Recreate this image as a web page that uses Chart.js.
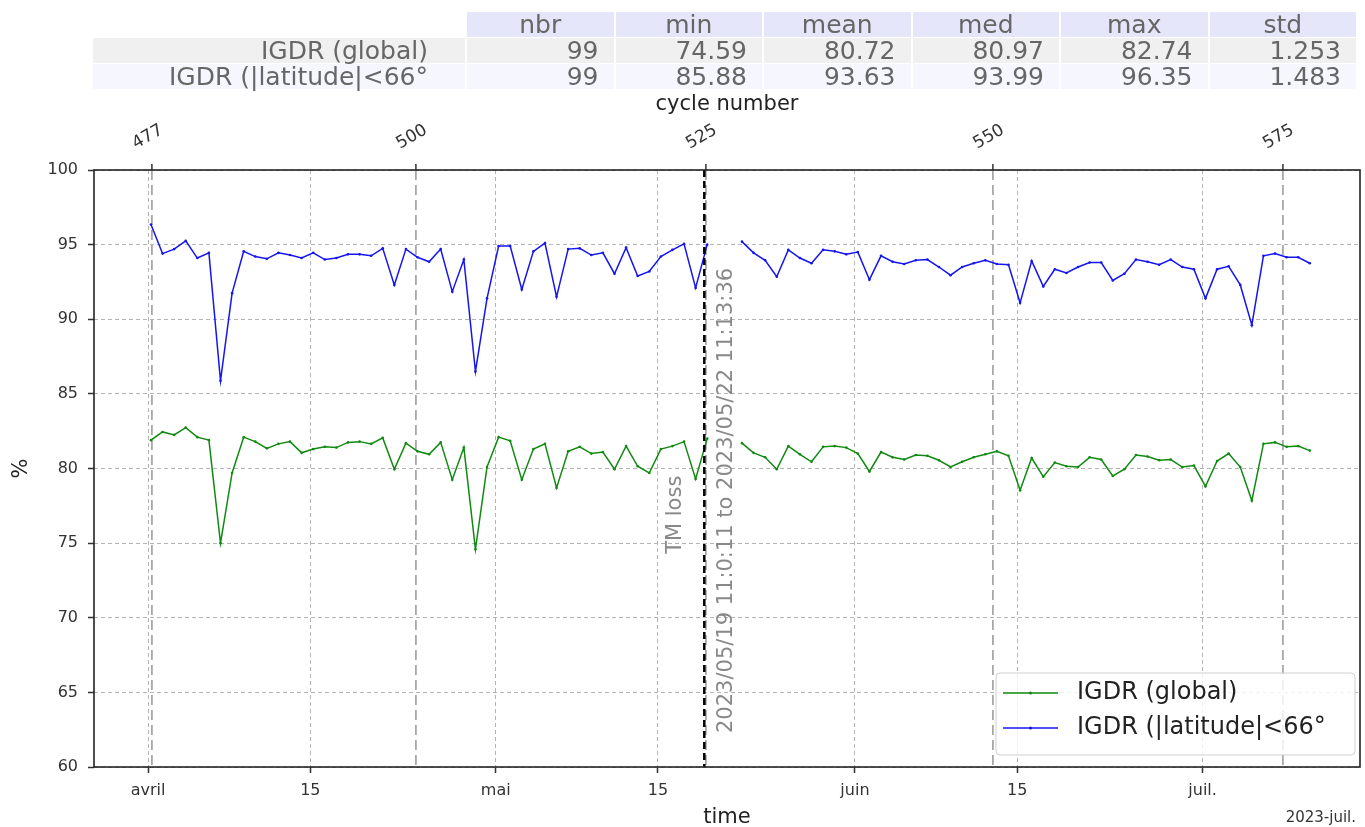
<!DOCTYPE html>
<html>
<head>
<meta charset="utf-8">
<script src="https://cdn.jsdelivr.net/npm/chart.js@4.4.1/dist/chart.umd.min.js"></script>
<style>
body{margin:0;background:#fff;}
#wrap{position:relative;width:1365px;height:827px;}
#stats div{position:absolute;box-sizing:border-box;height:25px;line-height:25px;font-family:'DejaVu Sans';font-size:25px;color:#666;white-space:nowrap;}
</style>
</head>
<body>
<div id="wrap">
<canvas id="c" width="1365" height="827"></canvas>
<div id="stats"></div>
</div>
<script>
// IGDR valid data % - daily samples, 2023
const refYear = 2023;
const sampleTime = '06:00';
const sampleDates = [
 '04-01','04-02','04-03','04-04','04-05','04-06','04-07','04-08','04-09','04-10',
 '04-11','04-12','04-13','04-14','04-15','04-16','04-17','04-18','04-19','04-20',
 '04-21','04-22','04-23','04-24','04-25','04-26','04-27','04-28','04-29','04-30',
 '05-01','05-02','05-03','05-04','05-05','05-06','05-07','05-08','05-09','05-10',
 '05-11','05-12','05-13','05-14','05-15','05-16','05-17','05-18','05-19',
 '05-22','05-23','05-24','05-25','05-26','05-27','05-28','05-29','05-30','05-31',
 '06-01','06-02','06-03','06-04','06-05','06-06','06-07','06-08','06-09','06-10',
 '06-11','06-12','06-13','06-14','06-15','06-16','06-17','06-18','06-19','06-20',
 '06-21','06-22','06-23','06-24','06-25','06-26','06-27','06-28','06-29','06-30',
 '07-01','07-02','07-03','07-04','07-05','07-06','07-07','07-08','07-09','07-10'
];
const globalValues = [
 81.9,82.45,82.25,82.74,82.1,81.9,75.0,79.7,82.1,81.8,
 81.35,81.65,81.8,81.05,81.3,81.45,81.4,81.75,81.8,81.65,
 82.05,79.95,81.7,81.15,80.95,81.75,79.25,81.4,74.59,80.1,
 82.1,81.85,79.25,81.3,81.65,78.7,81.15,81.45,81.0,81.1,
 79.95,81.5,80.15,79.7,81.3,81.5,81.8,79.3,82.0,
 81.7,81.05,80.75,79.95,81.5,80.95,80.45,81.45,81.5,
 81.4,81.0,79.8,81.1,80.75,80.6,80.9,80.85,80.55,80.1,
 80.45,80.75,80.95,81.15,80.85,78.55,80.7,79.45,80.4,80.15,
 80.1,80.75,80.6,79.5,79.95,80.9,80.8,80.55,80.6,80.1,
 80.2,78.8,80.5,81.0,80.1,77.85,81.65,81.75,81.45,81.5,
 81.2
];
const latValues = [
 96.35,94.4,94.7,95.25,94.1,94.45,85.88,91.75,94.55,94.2,
 94.05,94.45,94.3,94.1,94.45,94.0,94.1,94.35,94.35,94.25,
 94.75,92.3,94.7,94.15,93.85,94.7,91.85,94.0,86.5,91.4,
 94.9,94.9,92.0,94.55,95.1,91.5,94.7,94.75,94.3,94.45,
 93.05,94.8,92.9,93.2,94.2,94.65,95.05,92.1,95.0,
 95.2,94.45,93.95,92.85,94.65,94.1,93.75,94.65,94.55,
 94.35,94.5,92.65,94.25,93.85,93.7,93.95,94.0,93.5,92.95,
 93.5,93.75,93.95,93.7,93.65,91.1,93.9,92.2,93.35,93.1,
 93.5,93.8,93.8,92.6,93.05,94.0,93.85,93.65,94.0,93.5,
 93.35,91.4,93.35,93.55,92.3,89.6,94.25,94.4,94.15,94.15,
 93.75
];
const seriesLabels = ['IGDR (global)', 'IGDR (|latitude|<66°'];
const seriesColors = ['#108a10', '#1515f0'];

const axisStart = '03-27T08:00';
const axisEnd = '07-14T14:00';
const dateTickDates = ['04-01','04-15','05-01','05-15','06-01','06-15','07-01'];
const dateTickLabels = ['avril','15','mai','15','juin','15','juil.'];
const dateOffsetLabel = '2023-juil.';
const cycleTickDates = ['04-01T08:00','04-24T03:00','05-19T03:00','06-12T22:00','07-07T22:00'];
const cycleTickLabels = ['477','500','525','550','575'];

const tmLossDate = '05-19';
const tmLossText = 'TM loss';
const tmLossPeriod = '2023/05/19 11:0:11 to 2023/05/22 11:13:36';

const tableColumns = ['nbr','min','mean','med','max','std'];
const statsGlobal = ['99','74.59','80.72','80.97','82.74','1.253'];
const statsLat = ['99','85.88','93.63','93.99','96.35','1.483'];

function dayOf(s){
	let [md, hm] = s.split('T');
	let [m, d] = md.split('-').map(Number);
	let t = Date.UTC(refYear, m-1, d);
	if (hm) { let [h, mi] = hm.split(':').map(Number); t += (h*60+mi)*60000; }
	return (t - Date.UTC(refYear, 3, 1)) / 86400000;
}

// stats table above the plot
let stats = document.getElementById('stats');
function cell(txt, left, top, width, bg, align, pad){
	let d = document.createElement('div');
	d.textContent = txt;
	d.style.left = left+'px'; d.style.top = top+'px'; d.style.width = width+'px';
	d.style.background = bg; d.style.textAlign = align;
	if (pad) d.style.paddingRight = pad+'px';
	stats.appendChild(d);
}
tableColumns.forEach((c,i)=> cell(c, 467+i*148.5, 12, 146.5, '#e6e6fa', 'center'));
[[seriesLabels[0], statsGlobal, '#f0f0f0', 38], [seriesLabels[1], statsLat, '#f6f6ff', 64]].forEach(([lab, vals, bg, top])=>{
	cell(lab, 93, top, 372, bg, 'right', 37);
	vals.forEach((v,i)=> cell(v, 467+i*148.5, top, 146.5, bg, 'right', 15));
});

let toPoints = vals => vals.map((v,i)=> ({x: dayOf(sampleDates[i]+'T'+sampleTime), y: v}));
let gapSegment = {
	borderColor: c => (c.p1.parsed.x - c.p0.parsed.x > 1.5 ? 'rgba(0,0,0,0)' : undefined)
};

const overlay = {
	id: 'overlay',
	afterDatasetsDraw(chart){
		const {ctx, chartArea: a, scales: {x, y}} = chart;
		ctx.save();
		// TM loss marker
		let lx = x.getPixelForValue(dayOf(tmLossDate));
		ctx.strokeStyle = '#000'; ctx.lineWidth = 2.5; ctx.setLineDash([7,4]);
		ctx.beginPath(); ctx.moveTo(lx, a.top); ctx.lineTo(lx, a.bottom); ctx.stroke();
		ctx.setLineDash([]);
		ctx.fillStyle = '#888'; ctx.font = '21px "DejaVu Sans"'; ctx.textBaseline = 'middle';
		ctx.save(); ctx.translate(lx-29, y.getPixelForValue(76.9)); ctx.rotate(-Math.PI/2);
		ctx.textAlign = 'center'; ctx.fillText(tmLossText, 0, 0); ctx.restore();
		ctx.save(); ctx.translate(lx+22, a.bottom-34); ctx.rotate(-Math.PI/2);
		ctx.textAlign = 'left'; ctx.fillText(tmLossPeriod, 0, 0); ctx.restore();
		// frame
		ctx.strokeStyle = '#222'; ctx.lineWidth = 1.6;
		ctx.strokeRect(a.left, a.top, a.right-a.left, a.bottom-a.top);
		// legend
		let bx = a.right-364, by = a.bottom-94, bw = 359, bh = 82;
		ctx.fillStyle = 'rgba(255,255,255,0.8)'; ctx.strokeStyle = '#d0d0d0'; ctx.lineWidth = 1;
		ctx.beginPath(); ctx.roundRect(bx, by, bw, bh, 4); ctx.fill(); ctx.stroke();
		ctx.font = '24px "DejaVu Sans"'; ctx.textAlign = 'left';
		chart.data.datasets.forEach((ds,i)=>{
			let ry = by + 20 + i*35;
			ctx.strokeStyle = ds.borderColor; ctx.lineWidth = 1.5;
			ctx.beginPath(); ctx.moveTo(bx+7, ry); ctx.lineTo(bx+62, ry); ctx.stroke();
			ctx.fillStyle = ds.borderColor;
			ctx.beginPath(); ctx.arc(bx+34.5, ry, 1.5, 0, Math.PI*2); ctx.fill();
			ctx.fillStyle = '#222'; ctx.fillText(ds.label, bx+81, ry);
		});
		// date offset text
		ctx.font = '15px "DejaVu Sans"'; ctx.fillStyle = '#333'; ctx.textAlign = 'right';
		ctx.fillText(dateOffsetLabel, a.right-4, 818);
		ctx.restore();
	}
};

Chart.defaults.font.family = '"DejaVu Sans"';
Chart.defaults.color = '#333';

let chart = new Chart(document.getElementById('c').getContext('2d'), {
	type: 'line',
	data: {
		datasets: [
			{label: seriesLabels[0], data: toPoints(globalValues), borderColor: seriesColors[0], backgroundColor: seriesColors[0]},
			{label: seriesLabels[1], data: toPoints(latValues), borderColor: seriesColors[1], backgroundColor: seriesColors[1]}
		].map(d => ({...d, borderWidth: 1.5, pointRadius: 1.3, pointBorderWidth: 0, tension: 0, segment: gapSegment, xAxisID: 'x', yAxisID: 'y'}))
	},
	options: {
		responsive: false,
		animation: false,
		layout: {padding: {top: 92, right: 5, left: 0, bottom: 0}},
		plugins: {legend: {display: false}, tooltip: {enabled: false}},
		scales: {
			x: {
				type: 'linear', position: 'bottom',
				min: dayOf(axisStart), max: dayOf(axisEnd),
				afterBuildTicks: s => { s.ticks = dateTickDates.map(d => ({value: dayOf(d)})); },
				afterFit: s => { s.height = 60; },
				ticks: {autoSkip: false, maxRotation: 0, padding: 8, font: {size: 16}, color: '#333',
					callback: (v, i) => dateTickLabels[i]},
				grid: {color: '#b4b4b4', lineWidth: 1, tickLength: 6, tickColor: '#333', tickWidth: 1.5, tickBorderDash: [1,0]},
				border: {display: false, dash: [4,3]},
				title: {display: true, text: 'time', font: {size: 21}, color: '#222', padding: {top: 0, bottom: -3}}
			},
			xTop: {
				type: 'linear', position: 'top',
				min: dayOf(axisStart), max: dayOf(axisEnd),
				afterBuildTicks: s => { s.ticks = cycleTickDates.map(d => ({value: dayOf(d)})); },
				afterFit: s => { s.height = 78; },
				ticks: {autoSkip: false, minRotation: 30, maxRotation: 30, padding: 10, labelOffset: -8, font: {size: 17}, color: '#333',
					callback: (v, i) => cycleTickLabels[i]},
				grid: {color: '#a8a8a8', lineWidth: 1.8, tickLength: 6, tickColor: '#333', tickWidth: 1.5, tickBorderDash: [1,0]},
				border: {display: false, dash: [10,5]},
				title: {display: true, text: 'cycle number', font: {size: 21}, color: '#222', padding: {top: 0, bottom: 0}}
			},
			y: {
				min: 60, max: 100,
				afterFit: s => { s.width = 94; },
				ticks: {stepSize: 5, padding: 10, font: {size: 16}, color: '#333'},
				grid: {color: '#b4b4b4', lineWidth: 1, tickLength: 6, tickColor: '#333', tickWidth: 1.5, tickBorderDash: [1,0]},
				border: {display: false, dash: [4,3]},
				title: {display: true, text: '%', font: {size: 21}, color: '#222', padding: {top: 9, bottom: 0}}
			}
		}
	},
	plugins: [overlay]
});
</script>
</body>
</html>
